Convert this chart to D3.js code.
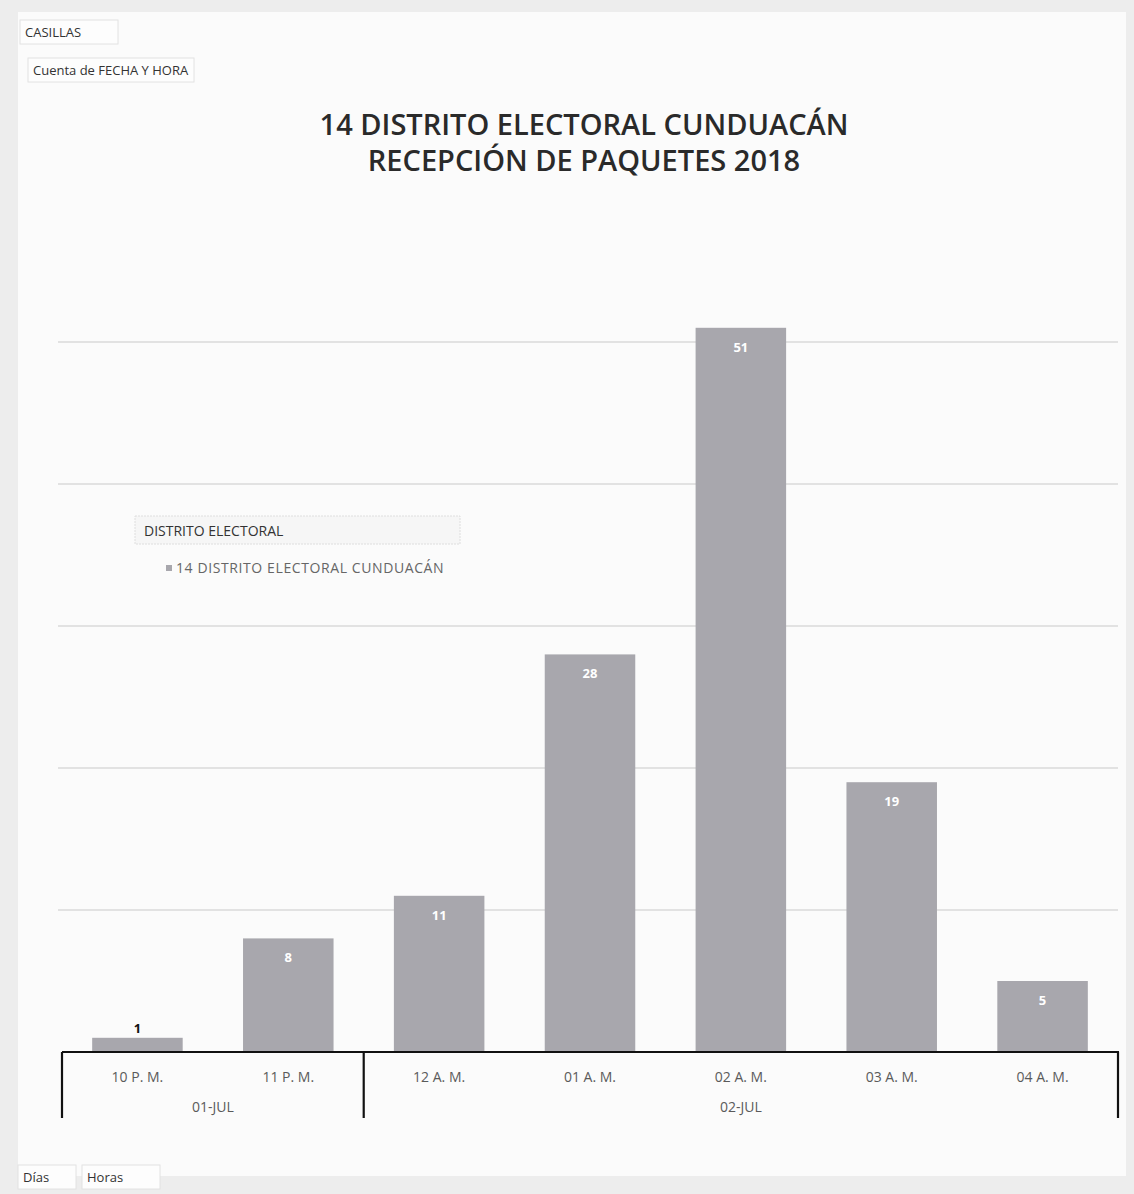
<!DOCTYPE html>
<html>
<head>
<meta charset="utf-8">
<script src="https://cdn.jsdelivr.net/npm/d3@7"></script>
<style>
  html, body { margin: 0; padding: 0; background: #f1f1f1; }
  svg { display: block; }
</style>
</head>
<body>
<svg id="chart" width="1134" height="1194"></svg>
<script>
// ---- Data ----
const hours = ["10 P. M.", "11 P. M.", "12 A. M.", "01 A. M.", "02 A. M.", "03 A. M.", "04 A. M."];
const days = ["01-JUL", "01-JUL", "02-JUL", "02-JUL", "02-JUL", "02-JUL", "02-JUL"];
const counts = [1, 8, 11, 28, 51, 19, 5];
const gridTicks = [10, 20, 30, 40, 50];
const titleLines = ["14 DISTRITO ELECTORAL CUNDUACÁN", "RECEPCIÓN DE PAQUETES 2018"];
const seriesName = "14 DISTRITO ELECTORAL CUNDUACÁN";
const legendTitle = "DISTRITO ELECTORAL";
const topButtons = ["CASILLAS", "Cuenta de FECHA Y HORA"];
const bottomButtons = ["Días", "Horas"];

const svg = d3.select("#chart");
const W = 1134, H = 1194;
const font = "'Open Sans', 'Noto Sans', sans-serif";

// background (scanned page look)
svg.append("rect").attr("width", W).attr("height", H).attr("fill", "#ededed");
svg.append("rect").attr("x", 18).attr("y", 12).attr("width", W - 26).attr("height", H - 30)
  .attr("fill", "#fbfbfb");

const margin = { left: 62, right: 16, top: 200 };
const plotRight = W - margin.right;   // 1118
const baseY = 1052;

const x = d3.scaleBand().domain(hours).range([margin.left, plotRight])
  .paddingInner(0.4).paddingOuter(0.2);
const y = d3.scaleLinear().domain([0, 60]).range([baseY, margin.top]);

// gridlines
svg.append("g").selectAll("line").data(gridTicks).join("line")
  .attr("x1", margin.left - 4).attr("x2", plotRight)
  .attr("y1", d => y(d)).attr("y2", d => y(d))
  .attr("stroke", "#c9c9c9").attr("stroke-width", 1.2);

// title
svg.append("g").selectAll("text").data(titleLines).join("text")
  .attr("x", 584).attr("y", (d, i) => 135 + i * 36)
  .attr("text-anchor", "middle")
  .attr("font-family", font).attr("font-size", 29).attr("font-weight", 600)
  .attr("fill", "#2a2a2a")
  .text(d => d);

// bars
const rows = hours.map((h, i) => ({ h, v: counts[i] }));
svg.append("g").selectAll("rect").data(rows).join("rect")
  .attr("x", d => x(d.h)).attr("width", x.bandwidth())
  .attr("y", d => y(d.v)).attr("height", d => baseY - y(d.v))
  .attr("fill", "#a8a7ad");

// data labels
svg.append("g").selectAll("text").data(rows).join("text")
  .attr("x", d => x(d.h) + x.bandwidth() / 2)
  .attr("y", d => (baseY - y(d.v) < 30) ? y(d.v) - 5 : y(d.v) + 24)
  .attr("text-anchor", "middle")
  .attr("font-family", font).attr("font-size", 13).attr("font-weight", 700)
  .attr("fill", d => (baseY - y(d.v) < 30) ? "#111" : "#ffffff")
  .text(d => d.v);

// axis: baseline and group dividers
const axisG = svg.append("g").attr("stroke", "#111").attr("stroke-width", 2.2);
axisG.append("line").attr("x1", margin.left).attr("x2", plotRight + 1)
  .attr("y1", baseY).attr("y2", baseY);
const groups = [];
days.forEach((d, i) => {
  if (!groups.length || groups[groups.length - 1].day !== d) groups.push({ day: d, start: i, end: i });
  else groups[groups.length - 1].end = i;
});
const step = x.step();
const edgeX = i => margin.left + i * step;
const bounds = [0].concat(groups.map(g => g.end + 1));
axisG.selectAll("line.div").data(bounds).join("line").attr("class", "div")
  .attr("x1", d => d === hours.length ? plotRight : edgeX(d))
  .attr("x2", d => d === hours.length ? plotRight : edgeX(d))
  .attr("y1", baseY).attr("y2", 1118);

// hour labels
svg.append("g").selectAll("text").data(hours).join("text")
  .attr("x", d => x(d) + x.bandwidth() / 2).attr("y", 1082)
  .attr("text-anchor", "middle")
  .attr("font-family", font).attr("font-size", 14).attr("fill", "#5a5a5a")
  .text(d => d);

// day labels
svg.append("g").selectAll("text").data(groups).join("text")
  .attr("x", g => (edgeX(g.start) + (g.end + 1 === hours.length ? plotRight : edgeX(g.end + 1))) / 2)
  .attr("y", 1112)
  .attr("text-anchor", "middle")
  .attr("font-family", font).attr("font-size", 14).attr("fill", "#5a5a5a")
  .text(g => g.day);

// legend
const lg = svg.append("g");
lg.append("rect").attr("x", 135).attr("y", 516).attr("width", 325).attr("height", 28)
  .attr("fill", "#f6f6f6").attr("stroke", "#dedede").attr("stroke-dasharray", "2,1");
lg.append("text").attr("x", 144).attr("y", 536)
  .attr("font-family", font).attr("font-size", 14).attr("fill", "#333")
  .text(legendTitle);
lg.append("rect").attr("x", 166).attr("y", 565).attr("width", 6).attr("height", 6).attr("fill", "#a8a7ad");
lg.append("text").attr("x", 176).attr("y", 573)
  .attr("font-family", font).attr("font-size", 14).attr("letter-spacing", 0.6).attr("fill", "#666")
  .text(seriesName);

// field buttons
function button(label, bx, by, bw, bh) {
  const g = svg.append("g");
  g.append("rect").attr("x", bx).attr("y", by).attr("width", bw).attr("height", bh)
    .attr("fill", "#fdfdfd").attr("stroke", "#e2e2e2");
  g.append("text").attr("x", bx + 5).attr("y", by + bh / 2 + 5)
    .attr("font-family", font).attr("font-size", 13).attr("fill", "#333")
    .text(label);
}
button(topButtons[0], 20, 20, 98, 24);
button(topButtons[1], 28, 58, 166, 24);
button(bottomButtons[0], 18, 1165, 58, 24);
button(bottomButtons[1], 82, 1165, 78, 24);
</script>
</body>
</html>
